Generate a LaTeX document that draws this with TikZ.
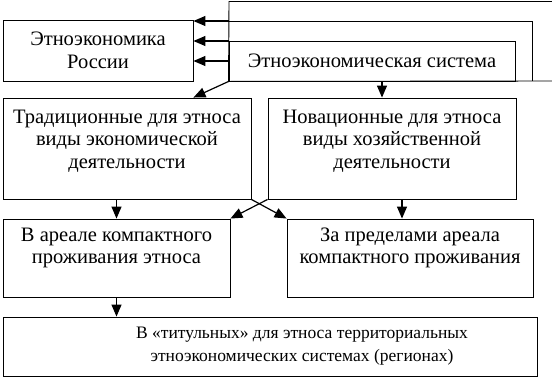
\documentclass[tikz,border=0pt]{standalone}
\usepackage{fontspec}
\setmainfont{Liberation Serif}
\usetikzlibrary{arrows.meta,positioning,calc}

\begin{document}
\begin{tikzpicture}[x=1pt, y=-1pt, line width=0.9pt,
    b/.style={rectangle, draw, inner sep=0pt},
    t/.style={align=center, font=\fontsize{20.5}{22.5}\selectfont},
    ar/.style={-{Triangle[length=12pt,width=10pt]}, line width=1.2pt}]
\useasboundingbox (0,0) rectangle (552,378);
% top row
\node[b, t, minimum width=190pt, minimum height=61pt] (russia) at (98,50.5) {Этноэкономика\\России};
\node[b, t, minimum width=286pt, minimum height=40pt] (system) at (372,61) {Этноэкономическая система};
\coordinate (l1) at (229,1.5);
\coordinate (l2) at (229,21);
\coordinate (l3) at (229,41);
\draw (552,1.5) -- (l1) -- (system.south west) -- (552,81);
\draw (l2) -- (532,21) -- (532,81);
\draw[ar] (l2) -- (l2 -| russia.east);
\draw[ar] (l3) -- (l3 -| russia.east);
\draw[ar] (system.west) -- (system.west -| russia.east);

% middle row
\node[b, minimum width=248pt, minimum height=101pt,
      label={[t, yshift=7.5pt]center:Традиционные для этноса\\виды экономической\\деятельности}] (trad) at (127,148.5) {};
\node[b, minimum width=248pt, minimum height=101pt,
      label={[t, yshift=7.5pt]center:Новационные для этноса\\виды хозяйственной\\деятельности}] (nov) at (392,148.5) {};
\draw[ar] (system.south west) -- (russia.south east |- trad.north);
\draw[ar] ([xshift=10pt]system.south) -- ([xshift=10pt]system.south |- nov.north);

% lower row
\node[b, minimum width=227pt, minimum height=78pt,
      label={[t, yshift=10pt]center:В ареале компактного\\проживания этноса}] (area) at (116.5,258) {};
\node[b, minimum width=246pt, minimum height=78pt,
      label={[t, yshift=10pt]center:За пределами ареала\\компактного проживания}] (outside) at (410,258) {};
\draw[ar] (area.north |- trad.south) -- (area.north);
\draw[ar] ([xshift=-8pt]outside.north |- nov.south) -- ([xshift=-8pt]outside.north);
\draw[ar] (trad.south east) -- (outside.north west);
\draw[ar] (nov.south west) -- (area.north east);

% bottom
\node[b, minimum width=534pt, minimum height=59pt,
      label={[t, font=\fontsize{17.5}{22.5}\selectfont, xshift=32pt, yshift=0.5pt]center:В «титульных» для этноса территориальных\\этноэкономических системах (регионах)}] (titul) at (270,346.5) {};
\draw[ar] (area.south) -- (area.south |- titul.north);
\end{tikzpicture}
\end{document}
